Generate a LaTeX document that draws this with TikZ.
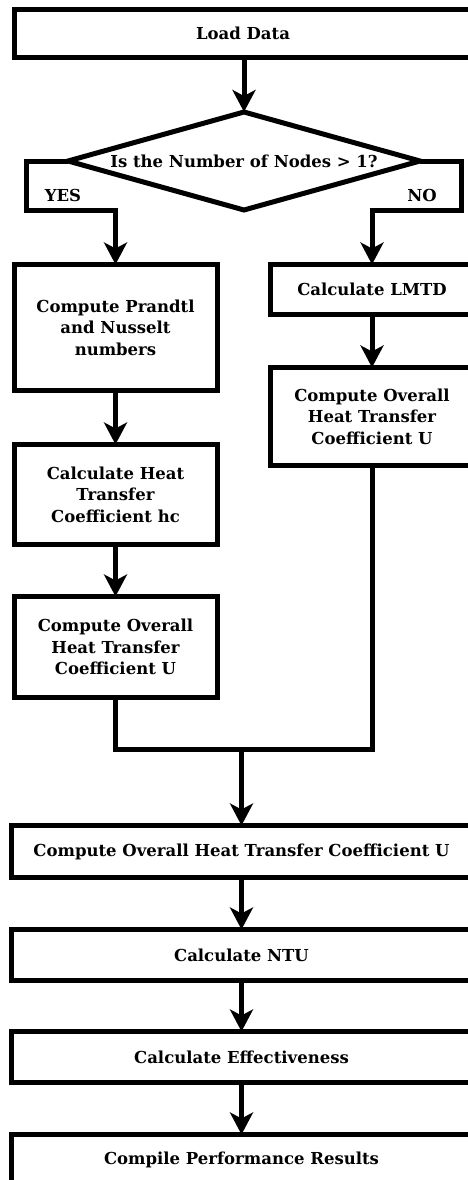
\documentclass[tikz,border=0pt]{standalone}
\usepackage{fontspec}
\newfontfamily\lbf{DejaVu Serif}
\usetikzlibrary{shapes.geometric,arrows.meta}
\tikzset{
  lw/.style={line width=5pt},
  txt/.style={font=\lbf\bfseries\fontsize{16.5}{21.5}\selectfont},
  box/.style={draw, lw, rectangle, inner sep=0pt, outer sep=0pt, align=center, txt},
  lbl/.style={inner sep=0pt, txt},
  arr/.style={lw, -{Stealth[length=22pt,width=23pt,inset=6pt]}},
  conn/.style={lw},
}
\begin{document}
\begin{tikzpicture}[x=1pt,y=-1pt]
\useasboundingbox (0,0) rectangle (467,1180);
% nodes
\node[box, minimum width=458pt, minimum height=48pt] (load) at (243,33.5) {Load Data};
\node[draw, lw, diamond, inner sep=0pt, outer sep=0pt, aspect=3.6,
      minimum width=352pt, minimum height=98pt, txt] (dec) at (244,161) {Is the Number of Nodes > 1?};
\node[lbl] (yes) at (63,195) {YES};
\node[lbl] (no) at (422,195) {NO};
\node[box, minimum width=203pt, minimum height=126pt] (pr) at (115.5,327.5) {Compute Prandtl\\and Nusselt\\numbers};
\node[box, minimum width=203pt, minimum height=100pt] (hc) at (115.5,494.5) {Calculate Heat\\Transfer\\Coefficient hc};
\node[box, minimum width=203pt, minimum height=101pt] (lu) at (115.5,647) {Compute Overall\\Heat Transfer\\Coefficient U};
\node[box, minimum width=204pt, minimum height=50pt] (lmtd) at (372,289.5) {Calculate LMTD};
\node[box, minimum width=204pt, minimum height=98pt] (ru) at (372,416.5) {Compute Overall\\Heat Transfer\\Coefficient U};
\node[box, minimum width=461pt, minimum height=52pt] (bu) at (241.5,851.5) {Compute Overall Heat Transfer Coefficient U};
\node[box, minimum width=461pt, minimum height=51pt] (ntu) at (241.5,955) {Calculate NTU};
\node[box, minimum width=461pt, minimum height=51pt] (eff) at (241.5,1057) {Calculate Effectiveness};
\node[box, minimum width=461pt, minimum height=51pt] (res) at (241.5,1160) {Compile Performance Results};
\coordinate (m) at (241.5,749.5);
% connectors
\draw[arr] (load.south -| dec.north) -- (dec.north);
\draw[arr] (dec.west) -- ++(-42,0) -- ++(0,49) -| (pr.north);
\draw[arr] (dec.east) -- ++(41,0) -- ++(0,49) -| (lmtd.north);
\draw[arr] (pr) -- (hc);
\draw[arr] (hc) -- (lu);
\draw[arr] (lmtd) -- (ru);
\draw[conn] (lu.south) |- (m) -| (ru.south);
\draw[arr] (m) -- (bu.north);
\draw[arr] (bu) -- (ntu);
\draw[arr] (ntu) -- (eff);
\draw[arr] (eff) -- (res);
\end{tikzpicture}
\end{document}
